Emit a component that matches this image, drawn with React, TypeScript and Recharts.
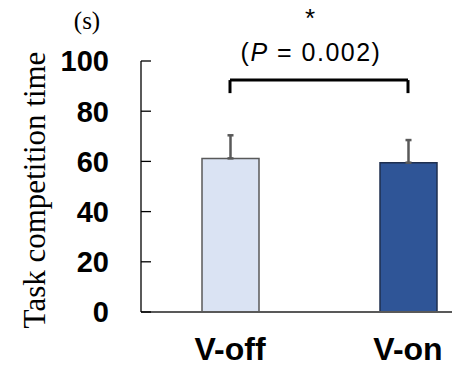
import React from 'react';
import { BarChart, Bar, XAxis, YAxis, ErrorBar, ReferenceLine, Cell } from 'recharts';

const categories = ['V-off', 'V-on'];
const means = [61.2, 59.5];
const errors = [9.2, 9.0];
const yTicks = [0, 20, 40, 60, 80, 100];
const fills = ['#dae3f3', '#2f5597'];
const strokes = ['#595959', '#1f2f4f'];

const bracketY = 92.4;
const bracketLegY = 87.2;

const data = categories.map((name, i) => ({ name, mean: means[i], err: [0, errors[i]] }));

const YTick = ({ x, y, payload }: any) => (
  <g>
    <line x1={x} x2={x + 10} y1={y} y2={y} stroke="#000" strokeWidth={1.3} />
    <text x={x - 32} y={y} dy="0.36em" textAnchor="end" fontFamily="'Liberation Sans', Arial, sans-serif" fontWeight={700} fontSize={29} fill="#000">
      {payload.value}
    </text>
  </g>
);

const XTick = ({ x, y, payload }: any) => (
  <text x={x} y={y + 40} textAnchor="middle" fontFamily="'Liberation Sans', Arial, sans-serif" fontWeight={700} fontSize={32} fill="#000">
    {payload.value}
  </text>
);

export default function App() {
  return (
    <div style={{ position: 'absolute', left: 0, top: 0, width: 452, height: 367, overflow: 'hidden', background: '#fff' }}>
      <BarChart width={520} height={367} data={data} margin={{ top: 61, right: 23, left: 0, bottom: 0 }}>
        <XAxis
          dataKey="name"
          tick={<XTick />}
          tickLine={false}
          height={55}
          axisLine={{ stroke: '#595959', strokeWidth: 2 }}
        />
        <YAxis
          domain={[0, 100]}
          ticks={yTicks}
          width={141}
          tickSize={0}
          tickMargin={0}
          tickLine={false}
          tick={<YTick />}
          axisLine={{ stroke: '#000', strokeWidth: 1.3 }}
          interval={0}
        />
        <Bar dataKey="mean" barSize={57} strokeWidth={1.5} isAnimationActive={false}>
          {data.map((d, i) => (
            <Cell key={d.name} fill={fills[i]} stroke={strokes[i]} />
          ))}
          <ErrorBar dataKey="err" direction="y" width={3} stroke="#595959" strokeWidth={2.5} isAnimationActive={false} />
        </Bar>
        <ReferenceLine segment={[{ x: categories[0], y: bracketY }, { x: categories[1], y: bracketY }]} stroke="#000" strokeWidth={3} />
        <ReferenceLine segment={[{ x: categories[0], y: bracketY }, { x: categories[0], y: bracketLegY }]} stroke="#000" strokeWidth={3} />
        <ReferenceLine segment={[{ x: categories[1], y: bracketY }, { x: categories[1], y: bracketLegY }]} stroke="#000" strokeWidth={3} />
      </BarChart>
      <div style={{ position: 'absolute', left: 87, top: 21, transform: 'translate(-50%, -50%)', fontFamily: "'Liberation Serif', serif", fontSize: 25 }}>(s)</div>
      <div style={{ position: 'absolute', left: 310, top: 18, transform: 'translate(-50%, -50%)', fontFamily: "'Liberation Sans', sans-serif", fontSize: 26 }}>*</div>
      <div style={{ position: 'absolute', left: 311, top: 52, transform: 'translate(-50%, -50%)', fontFamily: "'Liberation Sans', sans-serif", fontSize: 25, letterSpacing: 1.5, whiteSpace: 'nowrap' }}>
        (<i>P</i> = 0.002)
      </div>
      <div style={{ position: 'absolute', left: 35, top: 190, transform: 'translate(-50%, -50%) rotate(-90deg)', fontFamily: "'Liberation Serif', serif", fontSize: 31, whiteSpace: 'nowrap' }}>
        Task competition time
      </div>
    </div>
  );
}
